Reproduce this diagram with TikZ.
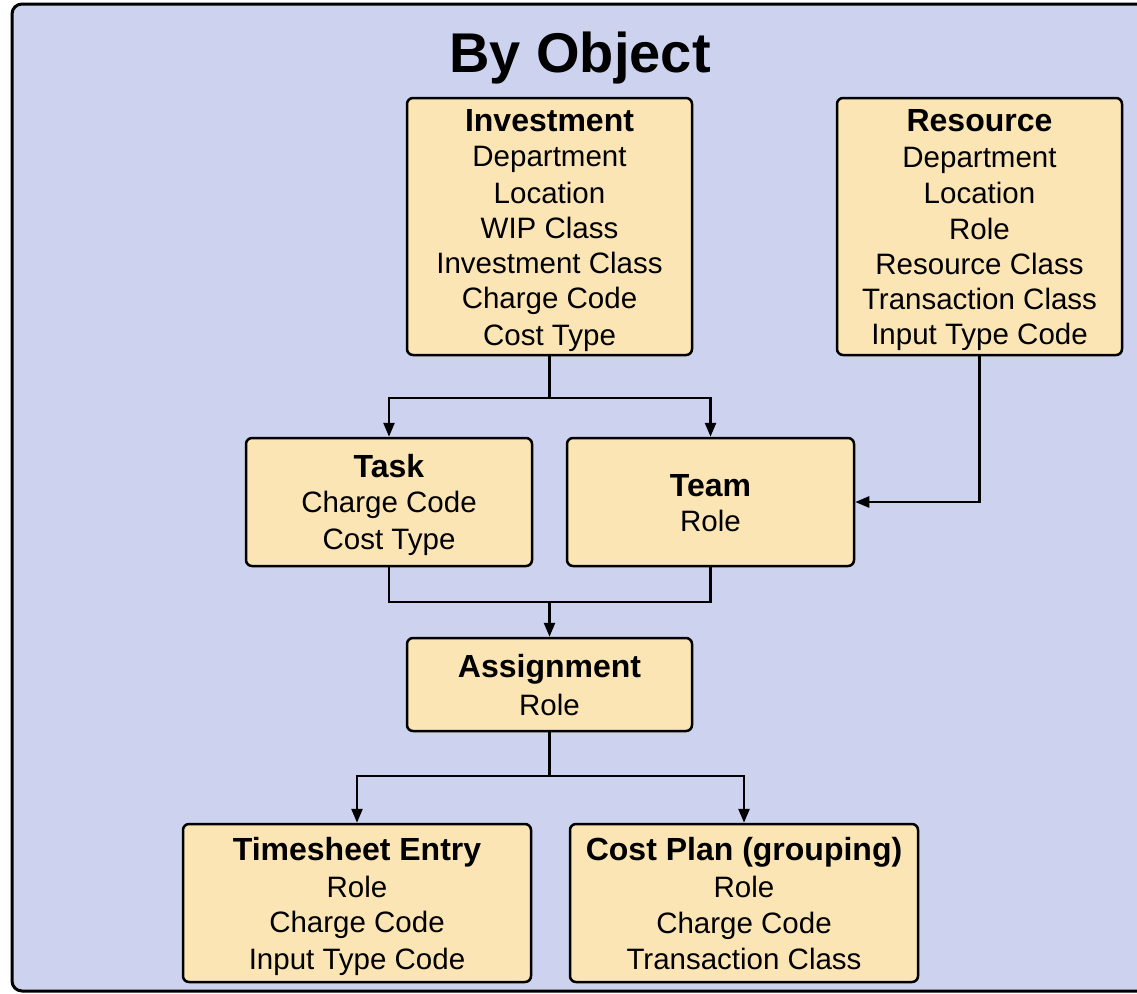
\documentclass[tikz,border=0pt]{standalone}
\usepackage{fontspec}
\setmainfont{Liberation Sans}
\usetikzlibrary{arrows.meta}
\definecolor{bgblue}{RGB}{205,210,238}
\definecolor{boxfill}{RGB}{252,229,180}
\newcommand{\lnstrut}{\rule[-5.5pt]{0pt}{35.2pt}}
\newcommand{\objhead}[1]{\lnstrut{\fontsize{32}{35.2}\selectfont\bfseries #1}}
\newcommand{\objline}[1]{\lnstrut #1}
\tikzset{
  objbox/.style={draw=black, fill=boxfill, line width=2.5pt, rounded corners=6pt,
    align=center, inner sep=0pt, font=\fontsize{29.5}{35.2}\selectfont},
  conn/.style={line width=2.5pt, draw=black},
  arr/.style={conn, -{Triangle[length=14pt,width=11pt]}}
}
\begin{document}
\begin{tikzpicture}[x=1pt,y=-1pt]
\useasboundingbox (0,0) rectangle (1137,993);
\clip (0,0) rectangle (1137,993);
\draw[line width=3pt, rounded corners=10pt, fill=bgblue] (12,4) rectangle (1160,991);
\node[font=\bfseries\fontsize{56}{60}\selectfont, anchor=base] (title) at (580,72) {By Object};

\node[objbox, minimum width=285pt, minimum height=257pt] (inv) at (549.5,226.5)
  {\objhead{Investment}\\\objline{Department}\\\objline{Location}\\\objline{WIP Class}\\\objline{Investment Class}\\\objline{Charge Code}\\\objline{Cost Type}};
\node[objbox, minimum width=285pt, minimum height=257pt] (res) at (979.5,226.5)
  {\objhead{Resource}\\\objline{Department}\\\objline{Location}\\\objline{Role}\\\objline{Resource Class}\\\objline{Transaction Class}\\\objline{Input Type Code}};
\node[objbox, minimum width=286pt, minimum height=128pt] (task) at (389,502)
  {\objhead{Task}\\\objline{Charge Code}\\\objline{Cost Type}};
\node[objbox, minimum width=287pt, minimum height=128pt] (team) at (710.5,502)
  {\objhead{Team}\\\objline{Role}};
\node[objbox, minimum width=285pt, minimum height=93pt] (asg) at (549.5,684.5)
  {\objhead{Assignment}\\\objline{Role}};
\node[objbox, minimum width=348pt, minimum height=158pt] (ts) at (357,903)
  {\objhead{Timesheet Entry}\\\objline{Role}\\\objline{Charge Code}\\\objline{Input Type Code}};
\node[objbox, minimum width=348pt, minimum height=158pt] (cp) at (744,903)
  {\objhead{Cost Plan (grouping)}\\\objline{Role}\\\objline{Charge Code}\\\objline{Transaction Class}};

\coordinate (j1) at (549.5,398);
\coordinate (j2) at (549.5,602);
\coordinate (j3) at (549.5,776);

\draw[conn] (inv.south) -- (j1);
\draw[arr] (j1) -| (task.north);
\draw[arr] (j1) -| (team.north);
\draw[arr] (res.south) |- (team.east);
\draw[conn] (task.south) |- (j2);
\draw[conn] (team.south) |- (j2);
\draw[arr] (j2) -- (asg.north);
\draw[conn] (asg.south) -- (j3);
\draw[arr] (j3) -| (ts.north);
\draw[arr] (j3) -| (cp.north);
\end{tikzpicture}
\end{document}
